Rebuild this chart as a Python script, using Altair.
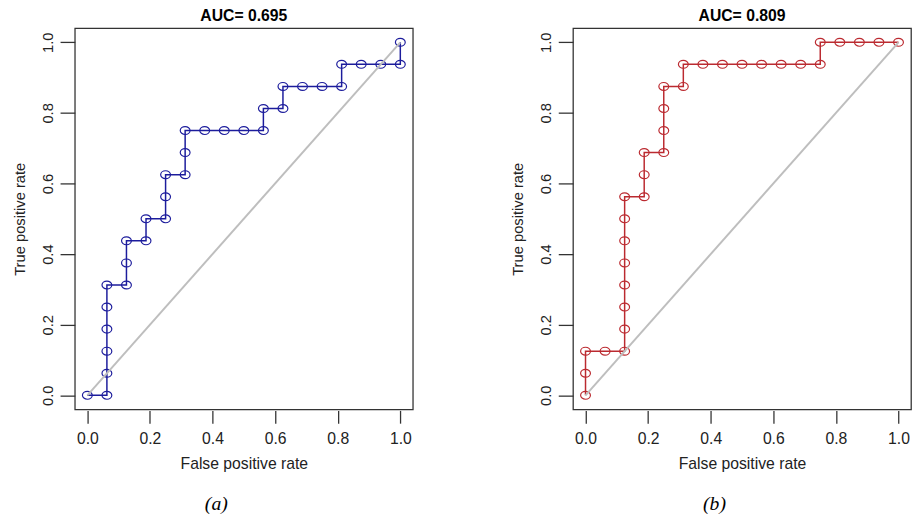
import altair as alt
import pandas as pd

# ---- data ----
fpr_a = [0.0, 0.0625, 0.0625, 0.0625, 0.0625, 0.0625, 0.0625, 0.125, 0.125, 0.125,
         0.1875, 0.1875, 0.25, 0.25, 0.25, 0.3125, 0.3125, 0.3125, 0.375, 0.4375,
         0.5, 0.5625, 0.5625, 0.625, 0.625, 0.6875, 0.75, 0.8125, 0.8125, 0.875,
         0.9375, 1.0, 1.0]
tpr_a = [0.0, 0.0, 0.0625, 0.125, 0.1875, 0.25, 0.3125, 0.3125, 0.375, 0.4375,
         0.4375, 0.5, 0.5, 0.5625, 0.625, 0.625, 0.6875, 0.75, 0.75, 0.75,
         0.75, 0.75, 0.8125, 0.8125, 0.875, 0.875, 0.875, 0.875, 0.9375, 0.9375,
         0.9375, 0.9375, 1.0]

fpr_b = [0.0, 0.0, 0.0, 0.0625, 0.125, 0.125, 0.125, 0.125, 0.125, 0.125,
         0.125, 0.125, 0.1875, 0.1875, 0.1875, 0.25, 0.25, 0.25, 0.25, 0.3125,
         0.3125, 0.375, 0.4375, 0.5, 0.5625, 0.625, 0.6875, 0.75, 0.75, 0.8125,
         0.875, 0.9375, 1.0]
tpr_b = [0.0, 0.0625, 0.125, 0.125, 0.125, 0.1875, 0.25, 0.3125, 0.375, 0.4375,
         0.5, 0.5625, 0.5625, 0.625, 0.6875, 0.6875, 0.75, 0.8125, 0.875, 0.875,
         0.9375, 0.9375, 0.9375, 0.9375, 0.9375, 0.9375, 0.9375, 0.9375, 1.0, 1.0,
         1.0, 1.0, 1.0]

diag_x = [0.0, 1.0]
diag_y = [0.0, 1.0]

titles = ["AUC= 0.695", "AUC= 0.809"]
tags = ["(a)", "(b)"]
colors = ["#1c1c9c", "#bb2a30"]
tick_values = [0.0, 0.2, 0.4, 0.6, 0.8, 1.0]

FONT = "Liberation Sans"
W, H = 344, 388
ELLIPSE = "M -1 0 A 1 0.8 0 1 0 1 0 A 1 0.8 0 1 0 -1 0 Z"


def panel(fpr, tpr, color, title, tag):
    df = pd.DataFrame({"fpr": fpr, "tpr": tpr, "i": list(range(len(fpr)))})
    diag = pd.DataFrame({"fpr": diag_x, "tpr": diag_y})
    tagdf = pd.DataFrame({"tag": [tag], "title": [title]})

    xs = alt.Scale(domain=[-0.04, 1.04], nice=False, zero=False)
    ys = alt.Scale(domain=[-0.04, 1.04], nice=False, zero=False)

    xaxis = alt.Axis(values=tick_values, format=".1f", title="False positive rate",
                     grid=False, domain=False, tickSize=13, offset=1, labelPadding=8,
                     labelFontSize=16, titleFontSize=16,
                     titleY=54, titleBaseline="middle", titleAlign="center")
    yaxis = alt.Axis(values=tick_values, format=".1f", title="True positive rate",
                     grid=False, domain=False, tickSize=15, labelAngle=270,
                     labelFontSize=15, titleFontSize=15,
                     labelAlign="center", labelBaseline="middle", labelPadding=13,
                     titleAngle=270, titleX=-56, titleY=H / 2,
                     titleBaseline="middle", titleAlign="center")

    line = alt.Chart(df).mark_line(color=color, strokeWidth=1.5).encode(
        x=alt.X("fpr:Q", scale=xs, axis=xaxis),
        y=alt.Y("tpr:Q", scale=ys, axis=yaxis),
        order="i:Q",
    )
    pts = alt.Chart(df).mark_point(shape=ELLIPSE, filled=False, size=100,
                                   color=color, strokeWidth=1.2, opacity=1).encode(
        x=alt.X("fpr:Q", scale=xs),
        y=alt.Y("tpr:Q", scale=ys),
    )
    dline = alt.Chart(diag).mark_line(color="#bebebe", strokeWidth=2).encode(
        x=alt.X("fpr:Q", scale=xs),
        y=alt.Y("tpr:Q", scale=ys),
    )
    ttl = alt.Chart(tagdf).mark_text(font=FONT, fontWeight="bold", fontSize=16,
                                     baseline="alphabetic", align="center",
                                     color="black").encode(
        x=alt.value(W / 2),
        y=alt.value(-7),
        text="title:N",
    )
    txt = alt.Chart(tagdf).mark_text(font="Liberation Serif", fontStyle="italic",
                                     fontSize=20, baseline="middle", align="center",
                                     color="black").encode(
        x=alt.value(W / 2 - 28),
        y=alt.value(484),
        text="tag:N",
    )
    return alt.layer(line, pts, dline, ttl, txt).properties(width=W, height=H)


left = panel(fpr_a, tpr_a, colors[0], titles[0], tags[0])
right = panel(fpr_b, tpr_b, colors[1], titles[1], tags[1])

chart = alt.hconcat(left, right, spacing=98).properties(
    padding={"left": 4, "top": -5, "right": 0, "bottom": 0},
    background="white",
).configure_view(stroke="#333333", strokeWidth=1.3).configure_axis(
    labelFont=FONT, titleFont=FONT,
    labelColor="#222222", titleColor="#222222", titleFontWeight="normal",
    tickColor="#333333", tickWidth=1.3,
)

chart.save("out.html", embed_options={"renderer": "svg", "actions": False})
